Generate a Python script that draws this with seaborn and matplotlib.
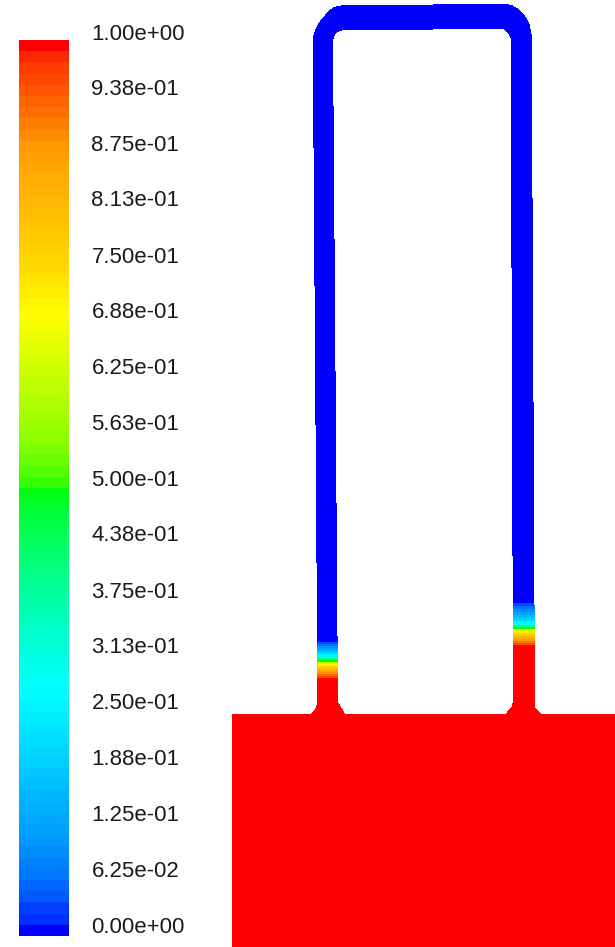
import numpy as np
import pandas as pd
import matplotlib
matplotlib.use("Agg")
import matplotlib.pyplot as plt
from matplotlib.colors import LinearSegmentedColormap
from matplotlib.path import Path
import seaborn as sns

# --- DATA ---
# legend tick values and labels, top to bottom
TICK_VALUES = [1.0, 0.938, 0.875, 0.813, 0.75, 0.688, 0.625, 0.563, 0.5,
               0.438, 0.375, 0.313, 0.25, 0.188, 0.125, 0.0625, 0.0]
TICK_LABELS = ["1.00e+00", "9.38e-01", "8.75e-01", "8.13e-01", "7.50e-01",
               "6.88e-01", "6.25e-01", "5.63e-01", "5.00e-01", "4.38e-01",
               "3.75e-01", "3.13e-01", "2.50e-01", "1.88e-01", "1.25e-01",
               "6.25e-02", "0.00e+00"]

# colour ramp
RAMP_VALUES = [0.0, 0.012, 0.018, 0.035, 0.0625, 0.10, 0.152, 0.27, 0.324,
               0.386, 0.448, 0.49, 0.5, 0.509, 0.554, 0.634, 0.693, 0.759,
               0.833, 0.858, 0.896, 0.933, 0.985, 1.0]
RAMP_COLORS = ["#0000ff", "#0030ff", "#0035ff", "#0055ff", "#0077ff", "#0099ff",
               "#00b8ff", "#00ffff", "#00ffd8", "#00ff99", "#00ff55", "#00ff20",
               "#00ff00", "#44ff00", "#8cff00", "#ccff00", "#ffff00", "#ffd500",
               "#ffb400", "#ffaa00", "#ff9000", "#ff6600", "#ff3300", "#ff0000"]
N_BANDS = 80

# interface in the two legs: pixel row where each band starts and its value
LEFT_ROWS = [642, 644, 646, 648, 650, 652, 654, 656, 658, 660, 662, 664, 666,
             668, 670, 672, 674, 676, 678]
LEFT_VALUES = [0.03, 0.06, 0.09, 0.12, 0.16, 0.2, 0.25, 0.3, 0.38, 0.5, 0.62,
               0.72, 0.77, 0.82, 0.86, 0.89, 0.93, 0.96, 1.0]
RIGHT_ROWS = [603, 606, 609, 612, 615, 618, 621, 623, 625, 627, 629, 631, 633,
              635, 637, 639, 641, 643, 645]
RIGHT_VALUES = [0.03, 0.06, 0.09, 0.12, 0.16, 0.2, 0.25, 0.3, 0.4, 0.5, 0.65,
                0.72, 0.77, 0.81, 0.85, 0.88, 0.92, 0.96, 1.0]

# --- GEOMETRY (image pixels) ---
OUTER = [(232, 947), (232, 714), (311, 714), (314, 711), (316, 707), (317.5, 702),
         (312.7, 37), (315, 30), (318.3, 23), (323.3, 17), (330, 9.3), (335, 6.7),
         (343, 5), (433, 5), (433, 3.5), (505, 3.5), (511.7, 5), (520, 10),
         (525, 16), (529.3, 23), (531.7, 35), (535, 707), (538, 711), (541, 714),
         (615, 714), (615, 947)]
HOLE = [(345, 714), (343, 710), (340, 705), (338, 702), (333, 40), (335, 35),
        (338, 32), (343, 30), (433, 30), (433, 29), (503, 29), (507, 32),
        (510.7, 38), (513, 700), (511.7, 707), (507, 712), (505, 714)]
WIDTH, HEIGHT = 615, 947
SPLIT_X = 425


def band_by_row(rows, values):
    # 0 above the first band, then each value holds until the next row
    lookup = np.concatenate([[0.0], values])
    return lookup[np.searchsorted(rows, np.arange(HEIGHT), side="right")]


def main():
    sns.set_theme(style="white")
    plt.rcParams["font.family"] = ["Liberation Sans", "DejaVu Sans"]

    stops = list(zip(RAMP_VALUES, RAMP_COLORS))
    ramp = LinearSegmentedColormap.from_list("fluent", stops, N=512)

    fig = plt.figure(figsize=(WIDTH / 100, HEIGHT / 100), dpi=100, facecolor="white")

    # --- CONTOUR FIELD ---
    xx, yy = np.meshgrid(np.arange(WIDTH) + 0.5, np.arange(HEIGHT) + 0.5)
    pts = np.column_stack([xx.ravel(), yy.ravel()])
    inside = Path(OUTER).contains_points(pts) & ~Path(HOLE).contains_points(pts)
    inside = inside.reshape(xx.shape)

    field = np.zeros((HEIGHT, WIDTH))
    field[:, :SPLIT_X] = band_by_row(LEFT_ROWS, LEFT_VALUES)[:, None]
    field[:, SPLIT_X:] = band_by_row(RIGHT_ROWS, RIGHT_VALUES)[:, None]

    ax = fig.add_axes([0, 0, 1, 1])
    sns.heatmap(pd.DataFrame(field), mask=~inside, cmap=ramp, vmin=0, vmax=1,
                cbar=False, xticklabels=False, yticklabels=False, ax=ax)
    ax.axis("off")

    # --- LEGEND BAR ---
    bar_left, bar_right, bar_top, bar_bottom = 18.5, 68.5, 40, 936
    bar_ax = fig.add_axes([bar_left / WIDTH, 1 - bar_bottom / HEIGHT,
                           (bar_right - bar_left) / WIDTH,
                           (bar_bottom - bar_top) / HEIGHT])
    levels = np.linspace(1, 0, N_BANDS)
    sns.heatmap(pd.DataFrame(levels), cmap=ramp, vmin=0, vmax=1, cbar=False,
                xticklabels=False, yticklabels=False, ax=bar_ax)

    # labels span slightly less than the bar
    label_span = 893 / 896
    for value, label in zip(TICK_VALUES, TICK_LABELS):
        bar_ax.annotate(label, xy=(1, (1 - value * label_span) * N_BANDS), xycoords="data",
                        xytext=(23, 9), textcoords="offset pixels",
                        ha="left", va="center", fontsize=16, color="#1a1a1a",
                        annotation_clip=False)

    fig.savefig("out.png", dpi=100, facecolor="white")


if __name__ == "__main__":
    main()
